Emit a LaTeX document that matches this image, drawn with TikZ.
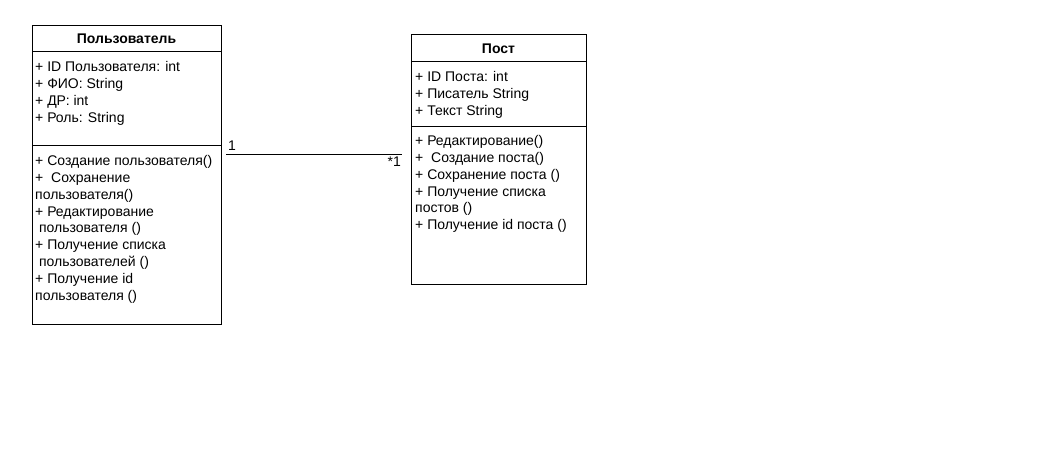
\documentclass[tikz,border=0pt]{standalone}
\usepackage{fontspec}
\setmainfont{Liberation Sans}
\begin{document}
\begin{tikzpicture}[x=1pt,y=-1pt,
  comp/.style={draw=black, line width=0.9pt, fill=white, anchor=north west, inner sep=0pt, outer sep=0pt},
  ttl/.style={font=\fontsize{14}{16}\selectfont\bfseries, inner sep=0pt},
  txt/.style={font=\fontsize{14}{16.9}\selectfont, align=left, anchor=north west, inner sep=0pt},
  lbl/.style={font=\fontsize{14}{16}\selectfont, inner sep=0pt}]
\useasboundingbox (0,0) rectangle (1043,470);
\fill[white] (0,0) rectangle (1043,470);
% User class
\node[comp, minimum width=189pt, minimum height=26pt] (utitle) at (32,25) {};
\node[comp, minimum width=189pt, minimum height=94pt] (uattr) at (32,51) {};
\node[comp, minimum width=189pt, minimum height=179pt] (umeth) at (32,145) {};
\node[ttl] (utt) at ([yshift=-1pt]utitle.center) {Пользователь};
\node[txt] (uat) at (35,61) {+ ID Пользователя: int\\+ ФИО: String\\+ ДР: int\\+ Роль: String};
\node[txt] (umt) at (35,155) {+ Создание пользователя()\\+ \ Сохранение\\пользователя()\\+ Редактирование\\\ пользователя ()\\+ Получение списка\\\ пользователей ()\\+ Получение id\\пользователя ()};
% Post class
\node[comp, minimum width=175pt, minimum height=27pt] (ptitle) at (411,34) {};
\node[comp, minimum width=175pt, minimum height=65pt] (pattr) at (411,61) {};
\node[comp, minimum width=175pt, minimum height=158pt] (pmeth) at (411,126) {};
\node[ttl] (ptt) at ([yshift=-1pt]ptitle.center) {Пост};
\node[txt] (pat) at (415,71) {+ ID Поста: int\\+ Писатель String\\+ Текст String};
\node[txt] (pmt) at (415,135) {+ Редактирование()\\+ \ Создание поста()\\+ Сохранение поста ()\\+ Получение списка\\постов ()\\+ Получение id поста ()};
% association
\coordinate (ca) at ([xshift=5pt]umeth.north east |- 0,154);
\coordinate (cb) at ([xshift=-9pt]pmeth.north west |- 0,154);
\draw[line width=0.9pt] (ca) -- (cb);
\node[lbl, anchor=base west] (m1) at (228,151) {1};
\node[lbl, anchor=base east] (m2) at (401,167) {*1};
\end{tikzpicture}
\end{document}
